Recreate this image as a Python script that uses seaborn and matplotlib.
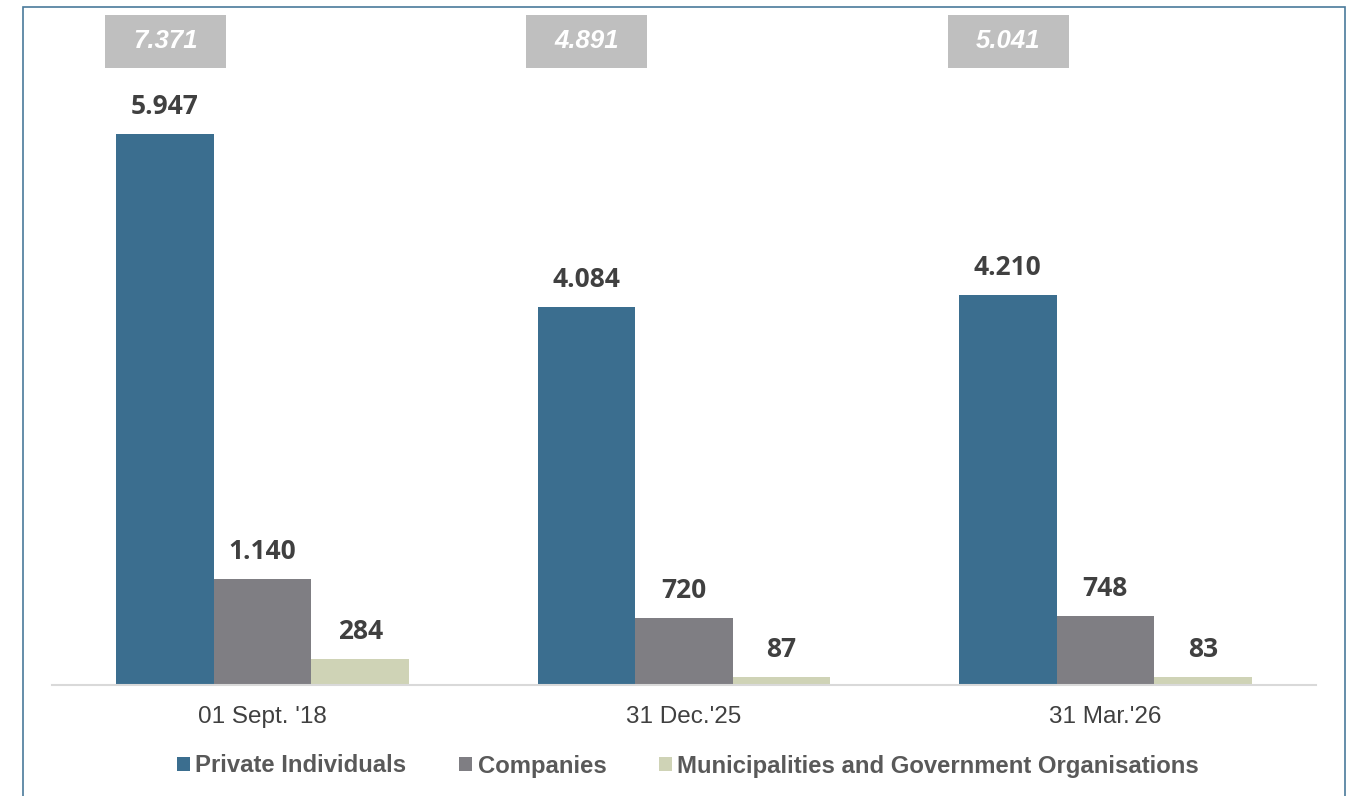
import matplotlib
matplotlib.use("Agg")
import matplotlib.pyplot as plt
import matplotlib.patches as mpatches
import seaborn as sns
import pandas as pd

# Data
dates = ["01 Sept. '18", "31 Dec.'25", "31 Mar.'26"]
groups = ["Private Individuals", "Companies", "Municipalities and Government Organisations"]
private = [5947, 4084, 4210]
companies = [1140, 720, 748]
municipal = [284, 87, 83]
totals = [7371, 4891, 5041]

colors = ["#3b6e8f", "#7f7e83", "#cfd3b6"]

df = pd.DataFrame({
    "date": dates * 3,
    "group": [groups[0]] * 3 + [groups[1]] * 3 + [groups[2]] * 3,
    "value": private + companies + municipal,
})

def fmt(v):
    return f"{v:,}".replace(",", ".")

sns.set_theme(style="white")
fig = plt.figure(figsize=(13.48, 7.96), dpi=100)
W, H = 1348, 796
ax = fig.add_axes([52 / W, 1 - 685 / H, (1316 - 52) / W, (685 - 10) / H])

sns.barplot(data=df, x="date", y="value", hue="group", order=dates,
            hue_order=groups, palette=colors, width=0.695, gap=0,
            saturation=1, legend=False, ax=ax, linewidth=0)

ax.set_xlim(-0.5, 2.5)
px_per_unit = 0.09266
ax.set_ylim(0, 675 / px_per_unit)

# value labels above each bar
for container in ax.containers:
    labels = [fmt(int(round(b.get_height()))) for b in container]
    ax.bar_label(container, labels=labels, padding=10, fontsize=19,
                 fontweight="bold", color="#404040", family="Open Sans")

# grey total boxes above each date group
box_w = 121 / 421
box_h = 53 / px_per_unit
box_bottom = (685 - 68) / px_per_unit
for i, t in enumerate(totals):
    cx = i - 97 / 421
    ax.add_patch(mpatches.Rectangle((cx - box_w / 2, box_bottom), box_w, box_h,
                                    facecolor="#bfbfbf", edgecolor="none", clip_on=False))
    ax.text(cx, box_bottom + box_h / 2, fmt(t), ha="center", va="center",
            fontsize=18.5, fontstyle="italic", fontweight="bold", color="white",
            family="Liberation Sans", clip_on=False)

for s in ["top", "right", "left"]:
    ax.spines[s].set_visible(False)
ax.spines["bottom"].set_color("#d9d9d9")
ax.spines["bottom"].set_linewidth(1.5)
ax.set_yticks([])
ax.set_xlabel("")
ax.set_ylabel("")
ax.tick_params(axis="x", length=0, pad=15, labelsize=17.5, labelcolor="#404040")
for lab in ax.get_xticklabels():
    lab.set_family("Liberation Sans")

# legend
handles = [mpatches.Patch(facecolor=c, edgecolor="none", label=g) for c, g in zip(colors, groups)]
fig.legend(handles=handles, loc="center", bbox_to_anchor=(688 / W, 1 - 766 / H), ncol=3,
           frameon=False, handlelength=0.55, handleheight=0.55, handletextpad=0.22,
           columnspacing=2.2, prop=dict(family="Liberation Sans", weight="bold", size=17.2),
           labelcolor="#595959")

# outer frame
fig.patches.append(mpatches.Rectangle((23 / W, -0.1), (1345 - 23) / W, 1 - 7 / H + 0.1,
                                      transform=fig.transFigure, fill=False,
                                      edgecolor="#4a7a9b", linewidth=1.2))

fig.savefig("out.png", dpi=100)
